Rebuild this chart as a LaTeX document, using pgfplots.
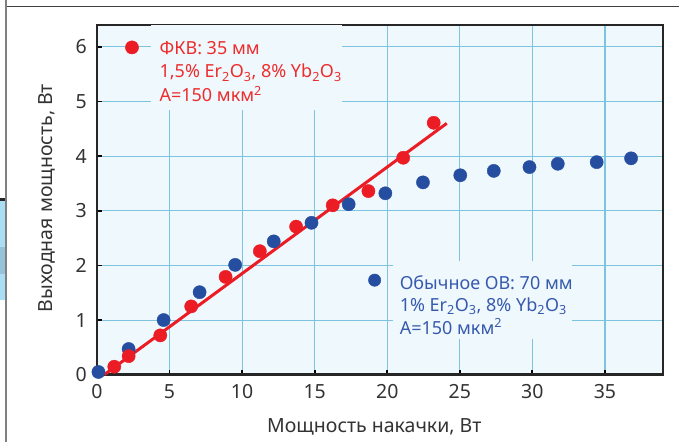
\documentclass[border=0pt]{standalone}
\usepackage{fontspec}
\setmainfont{Noto Sans}
\usepackage{pgfplots}
\pgfplotsset{compat=1.18}
\definecolor{bgc}{RGB}{239,248,253}
\definecolor{gridc}{RGB}{125,196,224}
\definecolor{myred}{RGB}{236,28,36}
\definecolor{myblue}{RGB}{38,78,160}
\definecolor{txtred}{RGB}{237,45,45}
\definecolor{txtblue}{RGB}{55,90,175}
\definecolor{sidecyan}{RGB}{170,222,245}
\definecolor{sidedark}{RGB}{150,195,215}
\begin{document}
\begin{tikzpicture}
\useasboundingbox (0,0) rectangle (679pt,442pt);
\fill[white] (0,0) rectangle (679pt,442pt);
\draw[black!75, line width=1pt] (7pt,435pt) -- (679pt,435pt);
\draw[black!50, line width=1.5pt] (6pt,0) -- (6pt,442pt);
\fill[sidecyan] (0,142pt) rectangle (5pt,244pt);
\fill[sidedark] (0,168pt) rectangle (5pt,195pt);
\fill[black!85] (0,241pt) rectangle (5pt,244pt);
\begin{axis}[
  at={(97pt,67.3pt)}, anchor=south west,
  scale only axis, width=566pt, height=349.7pt,
  xmin=0, xmax=39, ymin=0, ymax=6.4,
  axis background/.style={fill=bgc},
  axis line style={line width=2.6pt, black!85},
  grid=major, major grid style={gridc, line width=1.1pt},
  xtick={0,5,...,35}, ytick={0,1,...,6},
  xtick pos=bottom, ytick pos=left,
  tick align=inside, major tick length=5pt,
  every tick/.style={black, line width=1.8pt},
  /pgf/number format/assume math mode=true,
  tick label style={font=\fontsize{19.5}{21}\selectfont, text=black!80, inner sep=0pt},
  xticklabel style={anchor=base, yshift=-23.3pt},
  yticklabel style={anchor=east, xshift=-10pt},
  xlabel={Мощность накачки, Вт},
  ylabel={Выходная мощность, Вт},
  every axis x label/.style={at={(axis description cs:0.49,-0.1667)}, anchor=base},
  every axis y label/.style={at={(axis description cs:-0.0795,0.505)}, rotate=90, anchor=base},
  label style={font=\fontsize{19.5}{21}\selectfont, text=black!80, inner sep=0pt},
  clip=false,
]
% red fit line
\addplot[myred, line width=3pt, no marks] coordinates {(0.5,0) (24.1,4.6)};
% blue data: ordinary fibre
\addplot[only marks, mark=*, mark size=6.6pt, myblue] coordinates {
(0.1,0.05) (2.18,0.47) (4.59,1.00) (7.07,1.51) (9.52,2.01) (12.18,2.44)
(14.78,2.78) (17.34,3.12) (19.87,3.32) (22.46,3.52) (25.03,3.65)
(27.34,3.73) (29.8,3.80) (31.75,3.86) (34.43,3.89) (36.8,3.96)};
% red data: photonic crystal fibre
\addplot[only marks, mark=*, mark size=6.6pt, myred] coordinates {
(1.19,0.146) (2.18,0.34) (4.36,0.72) (6.49,1.25) (8.86,1.79) (11.22,2.26)
(13.72,2.71) (16.24,3.10) (18.7,3.36) (21.1,3.97) (23.2,4.61)};
% legend boxes
\fill[bgc] (axis cs:3.7,6.4) rectangle (axis cs:16.9,4.84);
\fill[bgc] (axis cs:20.4,2.08) rectangle (axis cs:32.7,0.65);
\addplot[only marks, mark=*, mark size=6.6pt, myred] coordinates {(2.41,5.99)};
\addplot[only marks, mark=*, mark size=6.2pt, myblue] coordinates {(19.13,1.73)};
\node[anchor=west, align=left, text=txtred, inner sep=0pt,
  font=\fontsize{18}{23.5}\selectfont] at (axis cs:4.3,5.55)
  {ФКВ: 35 мм\\1,5\% Er\textsubscript{2}O\textsubscript{3}, 8\% Yb\textsubscript{2}O\textsubscript{3}\\A=150 мкм\textsuperscript{2}};
\node[anchor=west, align=left, text=txtblue, inner sep=0pt,
  font=\fontsize{18}{22.5}\selectfont] at (axis cs:20.85,1.28)
  {Обычное ОВ: 70 мм\\1\% Er\textsubscript{2}O\textsubscript{3}, 8\% Yb\textsubscript{2}O\textsubscript{3}\\A=150 мкм\textsuperscript{2}};
\end{axis}
\end{tikzpicture}
\end{document}
